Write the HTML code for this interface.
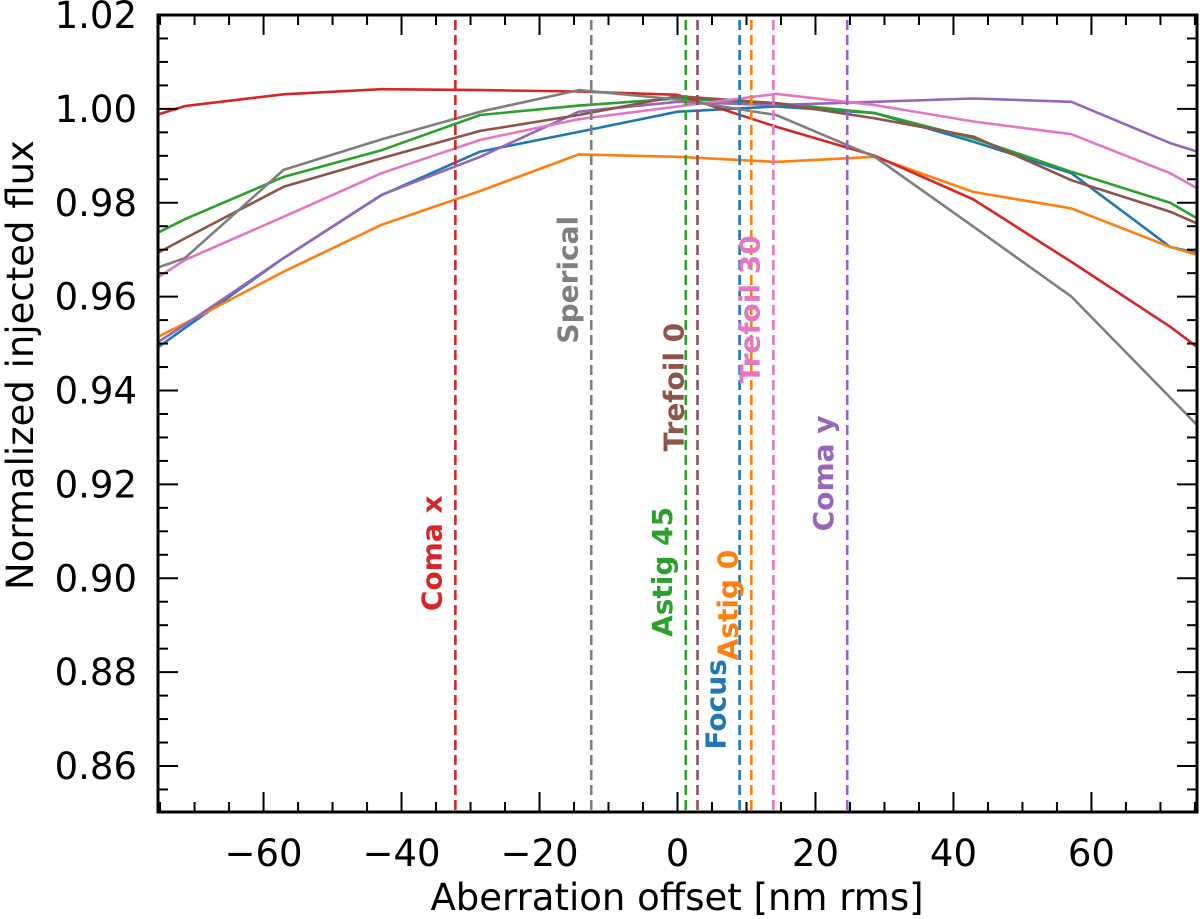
<!DOCTYPE html>
<html><head><meta charset="utf-8"><style>
html,body{margin:0;padding:0;background:#fff;}
svg{display:block;font-family:"DejaVu Sans","Liberation Sans",sans-serif;}
</style></head><body>
<svg id="chart" width="1200" height="919">
<defs><clipPath id="pc"><rect x="158" y="15" width="1039" height="797"/></clipPath></defs>
<g id="plot" clip-path="url(#pc)"></g>
<g id="axes"></g>
<text x="677" y="910" text-anchor="middle" font-size="37" fill="#000">Aberration offset [nm rms]</text>
<text transform="translate(33,365) rotate(-90)" text-anchor="middle" font-size="37" fill="#000">Normalized injected flux</text>
</svg>
<script>
const xs = [-85.7,-71.4,-57.1,-42.9,-28.6,-14.3,0,14.3,28.6,42.9,57.1,71.4,85.7];
const seriesNames = ["focus","astig-0","astig-45","coma-x","coma-y","trefoil-0","trefoil-30","sperical"];
const seriesColors = ["#1f77b4","#ff7f0e","#2ca02c","#d62728","#9467bd","#8c564b","#e377c2","#7f7f7f"];
const focusVals   = [0.9383,0.9533,0.9682,0.9816,0.9909,0.9951,0.9994,1.0005,0.9991,0.9930,0.9863,0.9706,0.9658];
const astig0Vals  = [0.9438,0.9543,0.9653,0.9753,0.9825,0.9903,0.9898,0.9887,0.9898,0.9823,0.9788,0.9706,0.9644];
const astig45Vals = [0.9660,0.9765,0.9855,0.9912,0.9987,1.0007,1.0022,1.0012,0.9991,0.9937,0.9866,0.9800,0.9679];
const comaXVals   = [0.9940,1.0006,1.0031,1.0042,1.0040,1.0037,1.0030,0.9962,0.9900,0.9807,0.9674,0.9536,0.9378];
const comaYVals   = [0.9404,0.9540,0.9682,0.9817,0.9898,0.9994,1.0015,1.0008,1.0015,1.0022,1.0015,0.9927,0.9861];
const trefoil0Vals= [0.9612,0.9724,0.9834,0.9895,0.9953,0.9987,1.0027,1.0012,0.9980,0.9941,0.9848,0.9781,0.9689];
const trefoil30Vals=[0.9542,0.9678,0.9770,0.9863,0.9934,0.9978,1.0005,1.0032,1.0008,0.9973,0.9946,0.9863,0.9746];
const spericalVals= [0.9609,0.9682,0.9870,0.9935,0.9994,1.0040,1.0020,0.9987,0.9898,0.9749,0.9600,0.9385,0.9170];
const optLabels = ["Focus","Astig 0","Astig 45","Coma x","Coma y","Trefoil 0","Trefoil 30","Sperical"];
const optX = [9.0,10.7,1.2,-32.2,24.6,2.9,13.9,-12.5];
const labelY = [0.8635,0.8825,0.8875,0.8930,0.9100,0.9270,0.9415,0.9500];
const xTicks = [-60,-40,-20,0,20,40,60];
const yTicks = [0.86,0.88,0.90,0.92,0.94,0.96,0.98,1.00,1.02];

const X0=158,X1=1197,Y0=15,Y1=812,XMIN=-75.3,XMAX=75.3,YMIN=0.8502,YMAX=1.02;
const sx=v=>X0+(v-XMIN)/(XMAX-XMIN)*(X1-X0);
const sy=v=>Y1-(v-YMIN)/(YMAX-YMIN)*(Y1-Y0);
const NS="http://www.w3.org/2000/svg";
const plot=document.getElementById('plot'), axes=document.getElementById('axes');
function mk(tag,attrs,parent){const e=document.createElementNS(NS,tag);for(const k in attrs)e.setAttribute(k,attrs[k]);parent.appendChild(e);return e;}
const allVals=[focusVals,astig0Vals,astig45Vals,comaXVals,comaYVals,trefoil0Vals,trefoil30Vals,spericalVals];
allVals.forEach((vals,i)=>{
  const p=mk('polyline',{points:xs.map((x,j)=>sx(x).toFixed(1)+','+sy(vals[j]).toFixed(1)).join(' '),fill:'none',stroke:seriesColors[i],'stroke-width':2.6,'stroke-linejoin':'round'},plot);
  
  
});
optX.forEach((x,i)=>{
  const l=mk('line',{x1:sx(x),x2:sx(x),y1:Y0+5,y2:Y1,stroke:seriesColors[i],'stroke-width':2.6,'stroke-dasharray':'10,5'},plot);
  
  
  const t=mk('text',{transform:`translate(${sx(x)-14},${sy(labelY[i])}) rotate(-90)`,'font-size':28,'font-weight':'bold',fill:seriesColors[i]},axes);
  t.textContent=optLabels[i];
  
  
});
const fr=mk('rect',{x:X0,y:Y0,width:X1-X0,height:Y1-Y0,fill:'none',stroke:'#000','stroke-width':3},axes);


for(let v=-75;v<=75;v+=5){const px=sx(v);const maj=v%20===0;const L=maj?20:10;
  mk('line',{x1:px,x2:px,y1:Y1,y2:Y1-L,stroke:'#000','stroke-width':2},axes);
  mk('line',{x1:px,x2:px,y1:Y0,y2:Y0+L,stroke:'#000','stroke-width':2},axes);}
for(let k=171;k<=204;k++){const v=k*0.005;const px=sy(v);const maj=(k%4===0);const L=maj?20:10;
  mk('line',{x1:X0,x2:X0+L,y1:px,y2:px,stroke:'#000','stroke-width':2},axes);
  mk('line',{x1:X1,x2:X1-L,y1:px,y2:px,stroke:'#000','stroke-width':2},axes);}
xTicks.forEach(v=>{const t=mk('text',{x:sx(v),y:866,'text-anchor':'middle','font-size':37,fill:'#000'},axes);
  t.textContent=(v<0?'\u2212':'')+Math.abs(v);
  
  });
yTicks.forEach(v=>{const t=mk('text',{x:137,y:sy(v)+13,'text-anchor':'end','font-size':37,fill:'#000'},axes);
  t.textContent=v.toFixed(2);
  
  });
</script>
</body></html>
